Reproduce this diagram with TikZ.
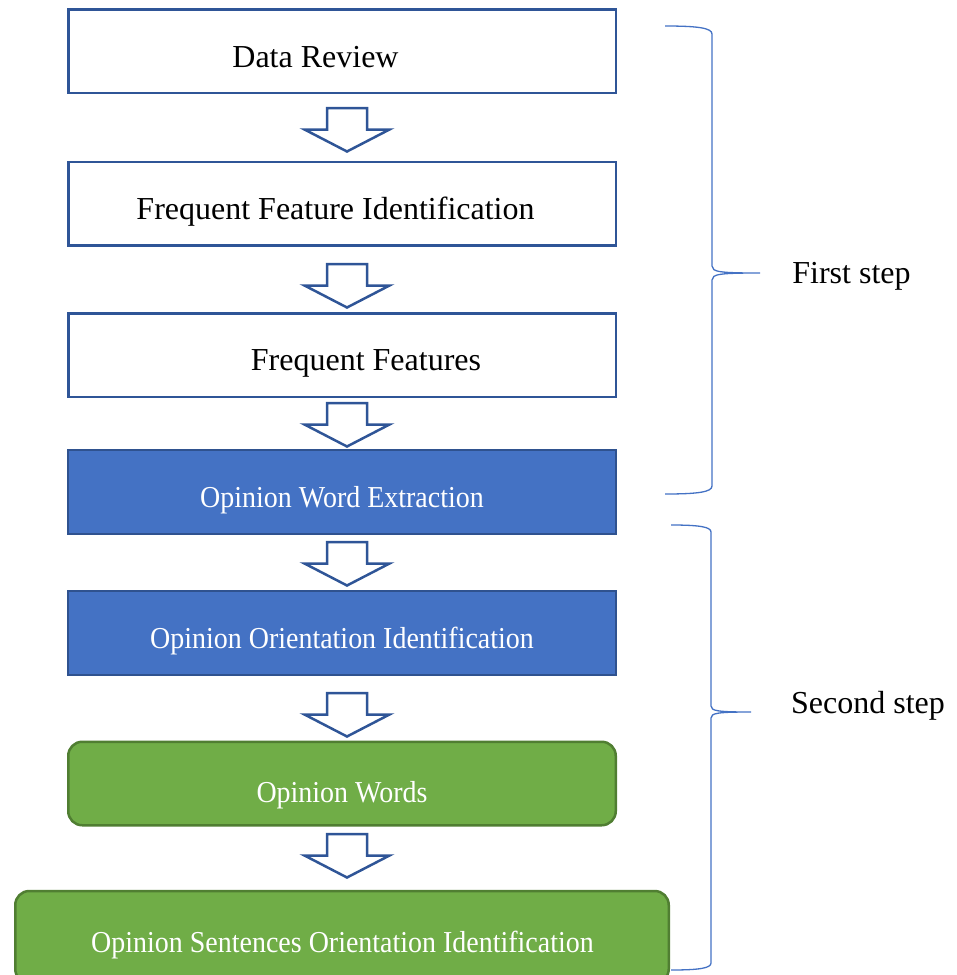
\documentclass[tikz,border=0pt]{standalone}
\usepackage{fontspec}
\setmainfont{Liberation Serif}
\newfontfamily\narrowserif[FakeStretch=0.92]{Liberation Serif}

\definecolor{edgeblue}{HTML}{2F5597}
\definecolor{fillblue}{HTML}{4472C4}
\definecolor{lineblue}{HTML}{2F528F}
\definecolor{fillgreen}{HTML}{70AD47}
\definecolor{linegreen}{HTML}{507E32}
\definecolor{braceblue}{HTML}{4472C4}

\tikzset{
  stagebox/.style={rectangle, inner sep=0pt, outer sep=0pt,
    minimum width=547.5pt, minimum height=83.5pt},
  plainbox/.style={stagebox, draw=edgeblue, line width=2.5pt, fill=white},
  bluebox/.style={stagebox, draw=lineblue, line width=2pt, fill=fillblue},
  greenbox/.style={stagebox, draw=linegreen, line width=2.5pt, fill=fillgreen,
    rounded corners=14pt},
  darktext/.style={anchor=base, inner sep=0pt, text=black,
    font=\fontsize{32}{38}\selectfont},
  lighttext/.style={anchor=base, inner sep=0pt, text=white,
    font=\narrowserif\fontsize{30.4}{36}\selectfont},
  bracepath/.style={draw=braceblue, line width=1.3pt},
  blockarrow/.pic={
    \draw[edgeblue, line width=2.5pt, line join=miter, fill=white]
      (-20,0) -- (20,0) -- (20,21.5) -- (42.5,21.5) -- (0,43.5)
      -- (-42.5,21.5) -- (-20,21.5) -- cycle;
  }
}

\begin{document}
\begin{tikzpicture}[x=1pt, y=-1pt]
\useasboundingbox (0,0) rectangle (957,975);
\clip (0,0) rectangle (957,975);

% process stages
\node[plainbox] (review)   at (342,51)    {};
\node[plainbox] (freqid)   at (342,203.5) {};
\node[plainbox] (freqfeat) at (342,355)   {};
\node[bluebox]  (wordext)  at (342,492)   {};
\node[bluebox]  (orient)   at (342,633)   {};
\node[greenbox] (words)    at (342,783.5) {};
\node[greenbox, minimum width=653.5pt, minimum height=92pt] (sentences) at (342,937) {};

% stage labels
\node[darktext] (review-t)   at (315.5,67)  {Data Review};
\node[darktext] (freqid-t)   at (335.5,219) {Frequent Feature Identification};
\node[darktext] (freqfeat-t) at (366,370)   {Frequent Features};
\node[lighttext] (wordext-t) at (342,507)   {Opinion Word Extraction};
\node[lighttext] (orient-t)  at (342,648)   {Opinion Orientation Identification};
\node[lighttext] (words-t)   at (342,802)   {Opinion Words};
\node[lighttext] (sentences-t) at (342.5,952) {Opinion Sentences Orientation Identification};

% block arrows between stages
\pic (a1) at (347,108) {blockarrow};
\pic (a2) at (347,264) {blockarrow};
\pic (a3) at (347,403) {blockarrow};
\pic (a4) at (347,542) {blockarrow};
\pic (a5) at (347,693) {blockarrow};
\pic (a6) at (347,834) {blockarrow};

% braces grouping the two steps
\draw[bracepath] (665,26) .. controls (698,26) and (712,28) .. (712,34)
  -- (712,266) .. controls (712,272) and (720,273) .. (760,273)
  .. controls (720,273) and (712,274) .. (712,280)
  -- (712,486) .. controls (712,492) and (698,494) .. (665,494);
\draw[bracepath] (671,525) .. controls (700,525) and (711,527) .. (711,532)
  -- (711,706) .. controls (711,711) and (718,712) .. (751,712)
  .. controls (718,712) and (711,713) .. (711,718)
  -- (711,963) .. controls (711,968) and (700,970) .. (671,970);

\node[darktext] (first)  at (851.5,283) {First step};
\node[darktext] (second) at (868,713)   {Second step};
\end{tikzpicture}
\end{document}
